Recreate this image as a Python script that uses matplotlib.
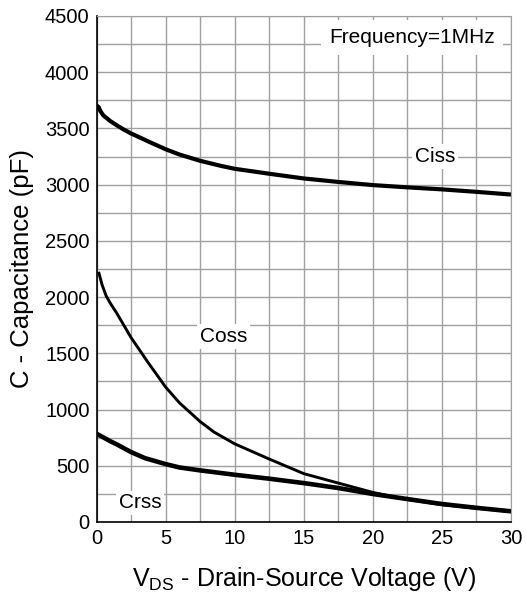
import matplotlib.pyplot as plt
import numpy as np

plt.rcParams['font.family'] = ['Liberation Sans', 'DejaVu Sans']

# curve data
vds_ciss = [0, 0.15, 0.3, 0.5, 1, 1.5, 2, 2.5, 3, 4, 5, 6, 7.5, 9, 10, 12.5,
            15, 17.5, 20, 22.5, 25, 27.5, 30]
ciss = [3705, 3690, 3650, 3615, 3565, 3525, 3488, 3455, 3427, 3370, 3315,
        3268, 3212, 3167, 3141, 3097, 3055, 3024, 2996, 2976, 2958, 2936, 2912]

vds_coss = [0.15, 0.4, 0.7, 1, 1.5, 2.5, 3.75, 5, 6, 7.5, 8.5, 10, 12.5, 15,
            17.5, 20, 22.5, 25, 27.5, 30]
coss = [2225, 2110, 2010, 1945, 1850, 1640, 1415, 1200, 1060, 893, 800, 695,
        560, 430, 346, 263, 200, 154, 122, 92]

vds_crss = [0, 0.5, 1, 1.5, 2.5, 3.5, 5, 6, 7.5, 10, 12.5, 15, 17.5, 20, 22.5,
            25, 27.5, 30]
crss = [785, 752, 718, 688, 622, 568, 515, 485, 459, 420, 385, 346, 302, 249,
        204, 160, 126, 95]

fig = plt.figure(figsize=(5.26, 6.05), dpi=100)
ax = fig.add_axes([0.1835, 0.1372, 0.788, 0.8364])

ax.plot(vds_ciss, ciss, color='black', lw=3.0, solid_capstyle='butt')
ax.plot(vds_coss, coss, color='black', lw=2.1, solid_capstyle='butt')
ax.plot(vds_crss, crss, color='black', lw=3.3, solid_capstyle='butt')

ax.set_xlim(0, 30)
ax.set_ylim(0, 4500)
ax.set_xticks(np.arange(0, 31, 5))
ax.set_yticks(np.arange(0, 4501, 500))
ax.set_xticks(np.arange(0, 30.1, 2.5), minor=True)
ax.set_yticks(np.arange(0, 4501, 250), minor=True)
ax.grid(which='both', color='#a0a0a0', lw=1.0)
ax.set_axisbelow(True)
ax.tick_params(which='both', length=0, labelsize=14.5, pad=5)

for s in ['top', 'right']:
    ax.spines[s].set_color('#a0a0a0')
for s in ['left', 'bottom']:
    ax.spines[s].set_color('black')
    ax.spines[s].set_linewidth(1.2)

box = dict(facecolor='white', edgecolor='none', pad=2)
ax.text(24.5, 3250, 'Ciss', fontsize=15, ha='center', va='center', bbox=box)
ax.text(9.2, 1650, 'Coss', fontsize=15, ha='center', va='center', bbox=box)
ax.text(3.15, 170, 'Crss', fontsize=15, ha='center', va='center', bbox=box)
ax.text(22.85, 4310, 'Frequency=1MHz', fontsize=15, ha='center', va='center',
        bbox=dict(facecolor='white', edgecolor='none', pad=6))

ax.set_ylabel('C - Capacitance (pF)', fontsize=18.5, labelpad=8)
ax.set_xlabel(r'V$_{\mathregular{DS}}$ - Drain-Source Voltage (V)', fontsize=18,
              labelpad=12)

fig.savefig('out.png', dpi=100)
